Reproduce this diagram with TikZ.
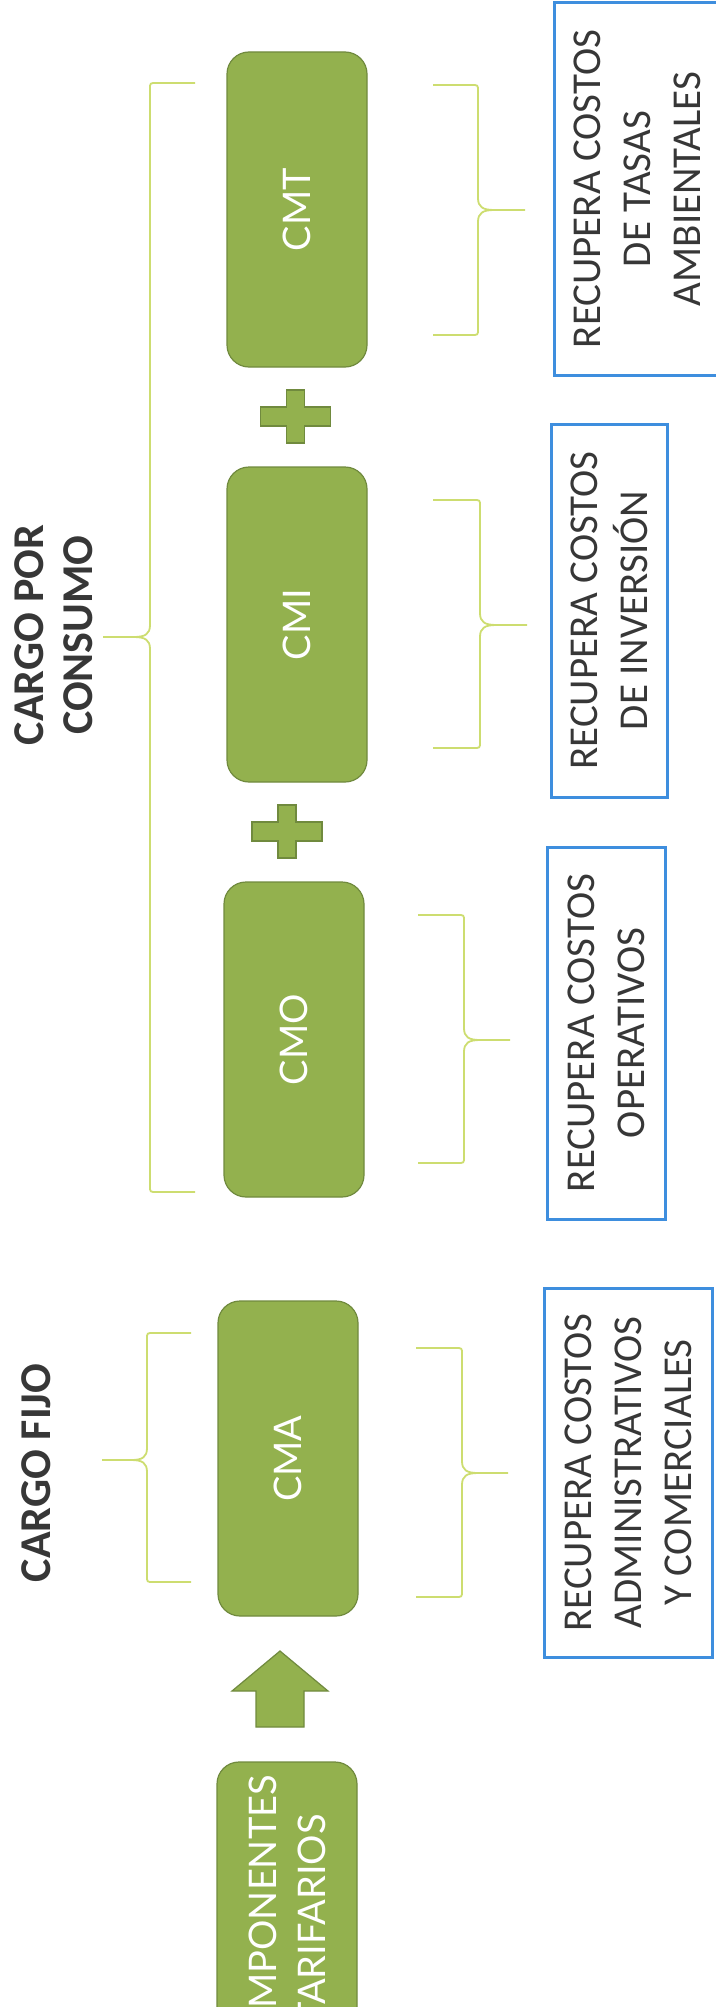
\documentclass[tikz,border=0pt]{standalone}
\usepackage{fontspec}
\setmainfont{Carlito}
\newfontfamily\labelfont{Lato}
\usepackage{tikz}
\definecolor{boxgreen}{RGB}{147,177,78}
\definecolor{boxedge}{RGB}{112,138,62}
\definecolor{bracegreen}{RGB}{205,221,112}
\definecolor{costblue}{RGB}{62,142,222}
\definecolor{textgray}{RGB}{55,55,55}
\tikzset{greenbox/.style={draw=boxedge,fill=boxgreen,line width=0.6pt,rounded corners=11pt,rotate=90,minimum width=157.5pt,minimum height=70pt,text=white,align=center,font=\labelfont\fontsize{19}{24.5}\selectfont},
costbox/.style={draw=costblue,line width=1.5pt,rotate=90,align=center,text=textgray,font=\fontsize{20.5}{25}\selectfont},
headline/.style={rotate=90,align=center,text=textgray,font=\bfseries\fontsize{22}{24.5}\selectfont},
costbrace/.style={draw=bracegreen,line width=0.9pt},
plusmark/.style={draw=boxedge,fill=boxgreen,line width=0.6pt}}
\begin{document}
\begin{tikzpicture}[x=0.5pt,y=-0.5pt]
\useasboundingbox (0,0) rectangle (716,2007);
\clip (0,0) rectangle (716,2007);
% charge components
\node[greenbox] (cmt) at (297,209.5) {CMT};
\node[greenbox] (cmi) at (297,624.5) {CMI};
\node[greenbox] (cmo) at (294,1039.5) {CMO};
\node[greenbox] (cma) at (288,1458.5) {CMA};
\node[greenbox] (comp) at (287,1919.5) {COMPONENTES\\TARIFARIOS};
% plus signs between the consumption charges
\filldraw[plusmark,shift={(295.5,416.5)}] (-35,-9.5) -- (-9,-9.5) -- (-9,-26.5) -- (9,-26.5) -- (9,-9.5) -- (35,-9.5)
 -- (35,9.5) -- (9,9.5) -- (9,26.5) -- (-9,26.5) -- (-9,9.5) -- (-35,9.5) -- cycle;
\filldraw[plusmark,shift={(287,831.5)}] (-35,-9.5) -- (-9,-9.5) -- (-9,-26.5) -- (9,-26.5) -- (9,-9.5) -- (35,-9.5)
 -- (35,9.5) -- (9,9.5) -- (9,26.5) -- (-9,26.5) -- (-9,9.5) -- (-35,9.5) -- cycle;
% block arrow from the components up to CMA
\filldraw[plusmark] (280,1651) -- (328,1691) -- (304,1691) -- (304,1727) -- (256,1727) -- (256,1691) -- (232,1691) -- cycle;
% headings
\node[headline] (consumo) at (54,635) {CARGO POR\\CONSUMO};
\node[headline] (fijo) at (36,1473) {CARGO FIJO};
% what each charge recovers
\node[costbox,minimum width=186pt,minimum height=83pt] (tasas) at (637,189) {RECUPERA COSTOS\\DE TASAS\\AMBIENTALES};
\node[costbox,minimum width=186.5pt,minimum height=58pt] (inversion) at (609,610.5) {RECUPERA COSTOS\\DE INVERSIÓN};
\node[costbox,minimum width=186pt,minimum height=59pt] (operativos) at (606,1033) {RECUPERA COSTOS\\OPERATIVOS};
\node[costbox,minimum width=184.5pt,minimum height=84pt] (admin) at (628,1472.5) {RECUPERA COSTOS\\ADMINISTRATIVOS\\Y COMERCIALES};
% braces: end, spine, tip, top, middle, bottom
\foreach \ex/\vx/\tx/\ty/\my/\by in {195/150/103/83/637/1192, 191/147/102/1333/1460/1582,
 433/478/525/85/210/335, 433/480/527/500/625/748, 418/464/510/915/1040/1163, 416/462/508/1348/1473/1597}
{
 \draw[costbrace] (\ex,\ty) -- ({\vx+0.14*(\ex-\vx)},\ty) .. controls (\vx,\ty) .. (\vx,\ty+6) -- (\vx,\my-12)
  .. controls (\vx,\my-3) and ({\vx+0.1*(\tx-\vx)},\my) .. ({\vx+0.35*(\tx-\vx)},\my) -- (\tx,\my)
  ({\vx+0.35*(\tx-\vx)},\my) .. controls ({\vx+0.1*(\tx-\vx)},\my) and (\vx,\my+3) .. (\vx,\my+12)
  -- (\vx,\by-6) .. controls (\vx,\by) .. ({\vx+0.14*(\ex-\vx)},\by) -- (\ex,\by);
}
\end{tikzpicture}
\end{document}
